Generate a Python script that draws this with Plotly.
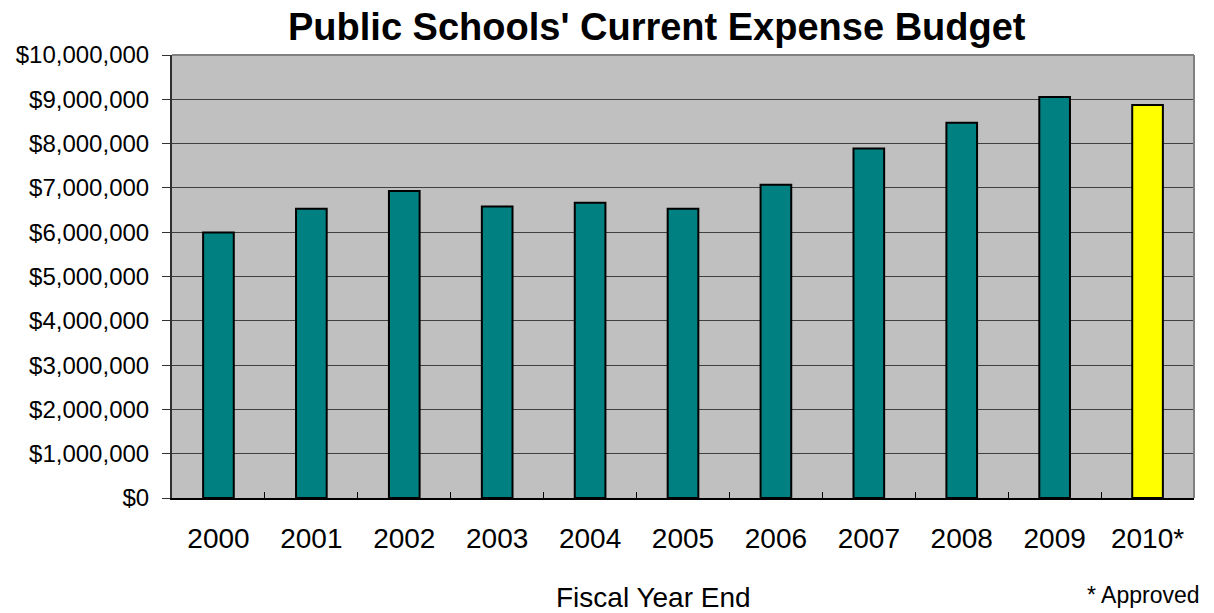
import plotly.graph_objects as go

# Fiscal years and current expense budget (dollars)
years = ["2000", "2001", "2002", "2003", "2004", "2005", "2006", "2007", "2008", "2009", "2010*"]
budget = [5995000, 6530000, 6930000, 6580000, 6665000, 6530000, 7070000, 7890000, 8470000, 9050000, 8870000]
bar_colors = ["#008080"] * 10 + ["#FFFF00"]

y_ticks = list(range(0, 10000001, 1000000))
y_tick_text = ["${:,}".format(v) for v in y_ticks]

fig = go.Figure(
    go.Bar(
        x=years,
        y=budget,
        marker=dict(color=bar_colors, line=dict(color="black", width=2)),
        hoverinfo="x+y",
    )
)

fig.update_layout(
    width=1214,
    height=613,
    margin=dict(l=172, r=20, t=55, b=115),
    paper_bgcolor="white",
    plot_bgcolor="#C0C0C0",
    bargap=0.67,
    showlegend=False,
    font=dict(family="Arial, Liberation Sans, sans-serif", color="black"),
)

fig.update_xaxes(
    type="category",
    tickson="boundaries",
    ticks="inside",
    ticklen=6,
    tickcolor="black",
    tickwidth=1,
    showline=True,
    linecolor="black",
    linewidth=2,
    showgrid=False,
    tickfont=dict(size=28),
    ticklabelstandoff=14,
)

fig.update_yaxes(
    range=[0, 10000000],
    tickvals=y_ticks,
    ticktext=y_tick_text,
    ticks="outside",
    ticklen=8,
    tickcolor="#303030",
    showline=True,
    linecolor="#303030",
    linewidth=2,
    showgrid=True,
    gridcolor="#404040",
    gridwidth=1,
    zeroline=False,
    tickfont=dict(size=24),
    ticklabelstandoff=8,
)

# Gray frame on the top and right of the plot area
fig.add_shape(type="line", xref="paper", yref="paper", x0=0, x1=1, y0=1, y1=1,
              line=dict(color="#808080", width=2))
fig.add_shape(type="line", xref="paper", yref="paper", x0=1, x1=1, y0=0, y1=1,
              line=dict(color="#808080", width=2))

# Title
fig.add_annotation(
    text="<b>Public Schools' Current Expense Budget</b>",
    xref="paper", yref="paper", x=0.475, y=1, yshift=5,
    xanchor="center", yanchor="bottom", showarrow=False,
    font=dict(size=38, family="Arial, Liberation Sans, sans-serif", color="black"),
)

# Axis title
fig.add_annotation(
    text="Fiscal Year End",
    xref="paper", yref="paper", x=0.471, y=0, yshift=-82,
    xanchor="center", yanchor="top", showarrow=False,
    font=dict(size=28, color="black"),
)

# Footnote
fig.add_annotation(
    text="* Approved",
    xref="paper", yref="paper", x=1.008, y=0, yshift=-82,
    xanchor="right", yanchor="top", showarrow=False,
    font=dict(size=23, color="black"),
)

fig.write_html("out.html")
